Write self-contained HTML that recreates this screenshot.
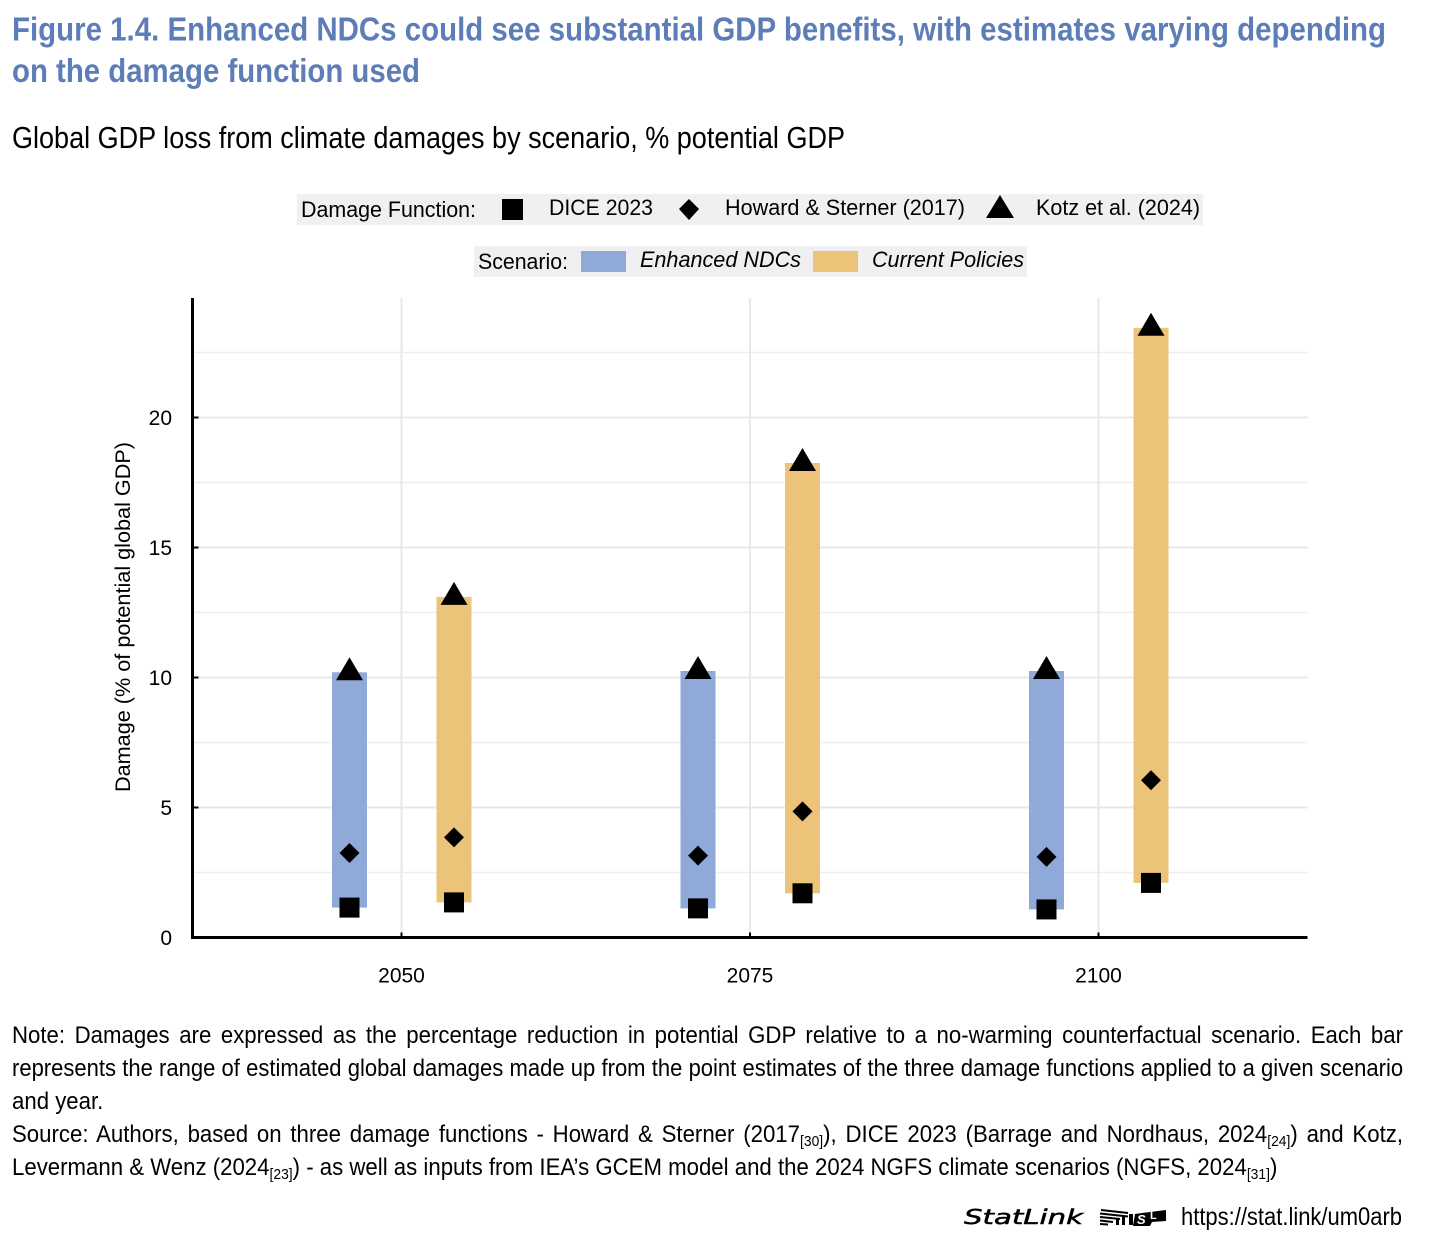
<!DOCTYPE html>
<html lang="en">
<head>
<meta charset="utf-8">
<title>Figure 1.4</title>
<style>
html,body{margin:0;padding:0;background:#fff;width:1456px;height:1252px;overflow:hidden}
body{position:relative;font-family:"Liberation Sans",Arial,sans-serif}
svg{position:absolute;left:0;top:0}
.ln{position:absolute;left:12px;height:30px;line-height:30px;font-size:24px;color:#000;white-space:nowrap;transform-origin:0 0;transform:scaleX(.925)}
.j{width:1503.8px;text-align:justify;text-align-last:justify}
.ln sub{font-size:15px;line-height:0;vertical-align:-4px}
</style>
</head>
<body>
<svg id="chart" width="1456" height="1252" viewBox="0 0 1456 1252" font-family="'Liberation Sans',Arial,sans-serif">
  <text x="12" y="40.500" font-size="33.500" font-weight="700" fill="#5c7db8" textLength="1374" lengthAdjust="spacingAndGlyphs">Figure 1.4. Enhanced NDCs could see substantial GDP benefits, with estimates varying depending</text>
  <text x="12" y="82" font-size="33.500" font-weight="700" fill="#5c7db8" textLength="408" lengthAdjust="spacingAndGlyphs">on the damage function used</text>
  <text x="12" y="148" font-size="31" fill="#000" textLength="833" lengthAdjust="spacingAndGlyphs">Global GDP loss from climate damages by scenario, % potential GDP</text>

  <g>
    <rect x="297" y="194" width="906" height="31" fill="#f0f0f2"/>
    <text x="301" y="217" font-size="22" textLength="175" lengthAdjust="spacingAndGlyphs">Damage Function:</text>
    <rect x="502" y="199" width="21" height="21" fill="#000"/>
    <text x="549" y="215" font-size="22" textLength="104" lengthAdjust="spacingAndGlyphs">DICE 2023</text>
    <polygon points="689,199 699,209 689,220 679,209" fill="#000"/>
    <text x="725" y="215" font-size="22" textLength="240" lengthAdjust="spacingAndGlyphs">Howard &amp; Sterner (2017)</text>
    <polygon points="1000,195 1014,218 986,218" fill="#000"/>
    <text x="1036" y="215" font-size="22" textLength="164" lengthAdjust="spacingAndGlyphs">Kotz et al. (2024)</text>
  </g>
  <g>
    <rect x="474" y="246" width="553" height="31" fill="#f0f0f2"/>
    <text x="478" y="269" font-size="22" textLength="90" lengthAdjust="spacingAndGlyphs">Scenario:</text>
    <rect x="581" y="251" width="45" height="21" fill="#8fa9d8"/>
    <text x="640" y="267" font-size="22" font-style="italic" textLength="161" lengthAdjust="spacingAndGlyphs">Enhanced NDCs</text>
    <rect x="813" y="251" width="45" height="21" fill="#ebc479"/>
    <text x="872" y="267" font-size="22" font-style="italic" textLength="152" lengthAdjust="spacingAndGlyphs">Current Policies</text>
  </g>

  <g id="plot"></g>

  <g>
    <text x="964" y="1224" font-family="'DejaVu Sans',sans-serif" font-style="italic" font-weight="400" stroke="#000" stroke-width="0.5" font-size="20" textLength="119" lengthAdjust="spacingAndGlyphs">StatLink</text>
    <g>
      <path d="M1101 1210 L1128 1213 M1100 1213.500 L1128 1216.500 M1100 1217 L1120 1219 M1100 1220.500 L1113 1222 M1100 1224 L1108 1224.500" stroke="#000" stroke-width="2" fill="none"/>
      <path d="M1116 1218 h3 v7 h-3 z M1122 1216 h3 v9 h-3 z M1129 1214 h4 v11 h-4 z" fill="#000"/>
      <path d="M1135 1214 L1150 1212 L1166 1210 L1166 1221 L1152 1222 L1150 1226 L1133 1226 Z" fill="#000"/>
      <text x="1137" y="1224" font-size="13" font-weight="700" font-style="italic" fill="#fff">S</text>
      <text x="1150" y="1219" font-size="11" font-weight="700" fill="#fff">L</text>
    </g>
    <text x="1181" y="1225" font-size="25" textLength="221" lengthAdjust="spacingAndGlyphs">https://stat.link/um0arb</text>
  </g>
</svg>

<div class="ln j" style="top:1021px">Note: Damages are expressed as the percentage reduction in potential GDP relative to a no-warming counterfactual scenario. Each bar</div>
<div class="ln j" style="top:1054px;transform:scaleX(.917);width:1517px">represents the range of estimated global damages made up from the point estimates of the three damage functions applied to a given scenario</div>
<div class="ln" style="top:1087px">and year.</div>
<div class="ln j" style="top:1120px">Source: Authors, based on three damage functions - Howard &amp; Sterner (2017<sub>[30]</sub>), DICE 2023 (Barrage and Nordhaus, 2024<sub>[24]</sub>) and Kotz,</div>
<div class="ln" style="top:1153px">Levermann &amp; Wenz (2024<sub>[23]</sub>) - as well as inputs from IEA’s GCEM model and the 2024 NGFS climate scenarios (NGFS, 2024<sub>[31]</sub>)</div>

<script>
const years = ['2050', '2075', '2100'];
const yTicks = [0, 5, 10, 15, 20];
const yMinorTicks = [2.5, 7.5, 12.5, 17.5, 22.5];
const diceEnhanced = [1.15, 1.12, 1.08];
const diceCurrent = [1.35, 1.7, 2.1];
const howardEnhanced = [3.25, 3.15, 3.1];
const howardCurrent = [3.85, 4.85, 6.05];
const kotzEnhanced = [10.2, 10.25, 10.25];
const kotzCurrent = [13.1, 18.25, 23.45];

const SVGNS = 'http://www.w3.org/2000/svg';
const plot = document.getElementById('plot');
const LEFT = 192.5, RIGHT = 1307.5, TOP = 298, BASE = 937.5;
function yScale(v) { return 937.5 - v * 26; }
function xScale(i) { return 401.5 + i * 348.5; }
function add(tag, attrs) {
  const el = document.createElementNS(SVGNS, tag);
  for (const k in attrs) el.setAttribute(k, attrs[k]);
  plot.appendChild(el);
  return el;
}

yMinorTicks.forEach(function (t) {
  const g = add('line', { x1: LEFT, x2: RIGHT, y1: yScale(t), y2: yScale(t), stroke: '#eeeeee', 'stroke-width': 1.5 });
  
  
});
yTicks.slice(1).forEach(function (t) {
  const g = add('line', { x1: LEFT, x2: RIGHT, y1: yScale(t), y2: yScale(t), stroke: '#e8e8e8', 'stroke-width': 2 });
  
  
  const k = add('line', { x1: LEFT, x2: LEFT + 6, y1: yScale(t), y2: yScale(t), stroke: '#000', 'stroke-width': 2 });
  
  
});
yTicks.forEach(function (t) {
  const l = add('text', { x: 172, y: yScale(t) + 7.5, 'font-size': 21, 'text-anchor': 'end', fill: '#000' });
  l.textContent = String(t);
  
  
});
years.forEach(function (year, i) {
  const g = add('line', { x1: xScale(i), x2: xScale(i), y1: TOP, y2: BASE, stroke: '#e8e8e8', 'stroke-width': 2 });
  
  
  const k = add('line', { x1: xScale(i), x2: xScale(i), y1: BASE - 5, y2: BASE, stroke: '#000', 'stroke-width': 2 });
  
  
  const l = add('text', { x: xScale(i), y: 982.5, 'font-size': 21, 'text-anchor': 'middle', fill: '#000' });
  l.textContent = year;
  
  
});

function drawScenario(offset, fill, dice, howard, kotz, label) {
  years.forEach(function (year, i) {
    const cx = xScale(i) + offset;
    const lo = Math.min(dice[i], howard[i], kotz[i]);
    const hi = Math.max(dice[i], howard[i], kotz[i]);
    const bar = add('rect', { x: cx - 17.5, y: yScale(hi), width: 35, height: yScale(lo) - yScale(hi), fill: fill });
    
    
    const sy = yScale(dice[i]);
    const sq = add('rect', { x: cx - 10, y: sy - 10, width: 20, height: 20, fill: '#000' });
    
    
    const dy = yScale(howard[i]);
    const di = add('polygon', { points: [cx, dy - 10, cx + 10, dy, cx, dy + 10, cx - 10, dy].join(' '), fill: '#000' });
    
    
    const ty = yScale(kotz[i]);
    const tr = add('polygon', { points: [cx, ty - 15, cx + 13.500, ty + 8, cx - 13.500, ty + 8].join(' '), fill: '#000' });
    
    
  });
}
drawScenario(-52, '#8fa9d8', diceEnhanced, howardEnhanced, kotzEnhanced, 'enhanced-ndcs');
drawScenario(52.5, '#ebc479', diceCurrent, howardCurrent, kotzCurrent, 'current-policies');

const yAxis = add('line', { x1: LEFT, x2: LEFT, y1: TOP, y2: BASE + 1.5, stroke: '#000', 'stroke-width': 3 });


const xAxis = add('line', { x1: LEFT, x2: RIGHT, y1: BASE, y2: BASE, stroke: '#000', 'stroke-width': 3 });


const yTitle = add('text', { transform: 'translate(130,617) rotate(-90)', 'font-size': 21, 'text-anchor': 'middle', fill: '#000', textLength: 350, lengthAdjust: 'spacingAndGlyphs' });
yTitle.textContent = 'Damage (% of potential global GDP)';


</script>
</body>
</html>
